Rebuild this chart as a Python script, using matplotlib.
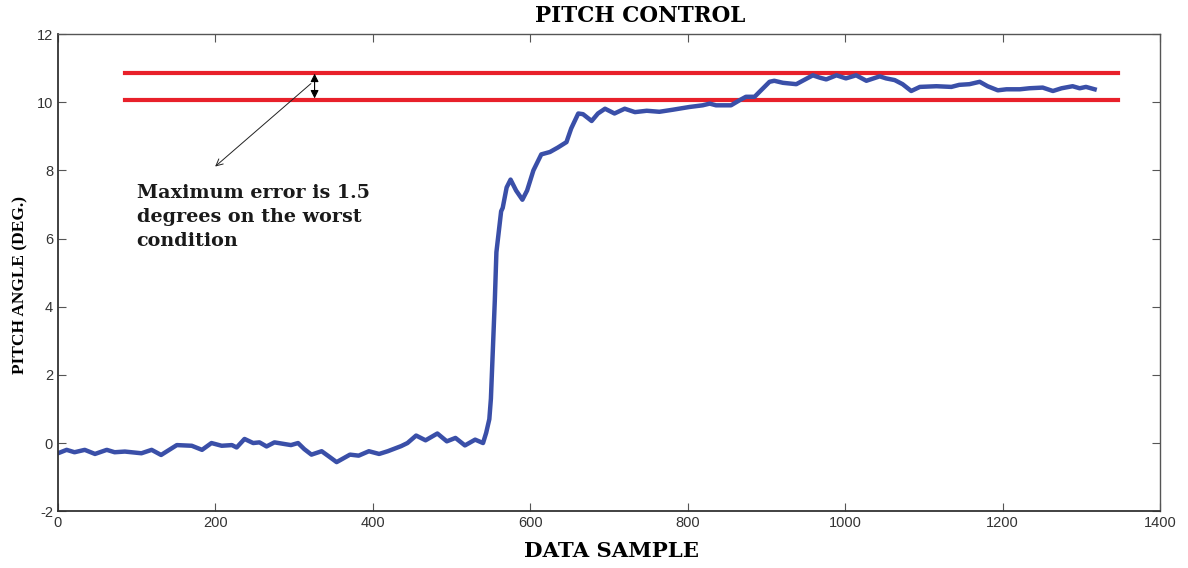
import numpy as np
import matplotlib.pyplot as plt

plt.rcParams['axes.unicode_minus'] = False

# pitch angle samples
sample = [0, 11, 21, 34, 47, 62, 72, 85, 106, 119, 131, 151, 170, 183, 195, 208,
          221, 227, 237, 248, 256, 265, 275, 288, 296, 305, 313, 322, 335, 344,
          354, 371, 382, 395, 408, 419, 436, 444, 455, 467, 482, 494, 505, 517,
          530, 540, 544, 548, 550, 555, 557, 563, 565, 570, 575, 582, 590, 596,
          604, 614, 625, 635, 646, 652, 661, 667, 678, 686, 695, 707, 720, 733,
          748, 764, 781, 802, 819, 828, 836, 855, 866, 874, 885, 891, 904, 910,
          921, 938, 946, 959, 968, 976, 989, 1001, 1014, 1027, 1044, 1052, 1063,
          1073, 1084, 1095, 1116, 1135, 1145, 1158, 1171, 1181, 1194, 1205, 1222,
          1234, 1251, 1264, 1275, 1289, 1298, 1306, 1317]
angle = [-0.3, -0.2, -0.27, -0.2, -0.32, -0.2, -0.27, -0.25, -0.3, -0.2, -0.35,
         -0.06, -0.08, -0.2, 0.0, -0.08, -0.06, -0.13, 0.12, 0.0, 0.02, -0.1, 0.02,
         -0.03, -0.06, 0.0, -0.18, -0.34, -0.24, -0.39, -0.56, -0.34, -0.37, -0.24,
         -0.32, -0.24, -0.09, 0.0, 0.22, 0.08, 0.28, 0.05, 0.15, -0.07, 0.1, 0.0,
         0.3, 0.7, 1.3, 4.2, 5.6, 6.8, 6.9, 7.5, 7.73, 7.41, 7.14, 7.41, 8.0, 8.47,
         8.54, 8.67, 8.83, 9.23, 9.67, 9.65, 9.45, 9.67, 9.81, 9.67, 9.81, 9.71,
         9.75, 9.72, 9.78, 9.86, 9.91, 9.96, 9.91, 9.91, 10.06, 10.16, 10.16, 10.3,
         10.6, 10.63, 10.57, 10.53, 10.63, 10.79, 10.72, 10.67, 10.79, 10.7, 10.79,
         10.63, 10.76, 10.7, 10.65, 10.53, 10.33, 10.45, 10.47, 10.45, 10.51, 10.53,
         10.6, 10.47, 10.35, 10.38, 10.38, 10.41, 10.43, 10.33, 10.41, 10.47, 10.41,
         10.45, 10.38]

# error band limits
band_lo = 10.08
band_hi = 10.87
band_x = [85, 1347]

xticks = [0, 200, 400, 600, 800, 1000, 1200, 1400]
yticks = [-2, 0, 2, 4, 6, 8, 10, 12]

serif = 'Liberation Serif'
wide_serif = 'DejaVu Serif'

fig = plt.figure(figsize=(11.88, 5.68), dpi=100)
ax = fig.add_axes([0.0488, 0.1, 0.9276, 0.84])

ax.plot(band_x, [band_hi, band_hi], color='#e8202a', lw=3)
ax.plot(band_x, [band_lo, band_lo], color='#e8202a', lw=3)
ax.plot(sample, angle, color='#3a4fa8', lw=3.2)

ax.annotate('', xy=(326, band_hi + 0.05), xytext=(326, band_lo - 0.05),
            arrowprops=dict(arrowstyle='<|-|>', color='black', lw=0.8, mutation_scale=12))
ax.annotate('', xy=(197, 8.06), xytext=(324, 10.6),
            arrowprops=dict(arrowstyle='->', color='#222222', lw=0.7, mutation_scale=12))

ax.text(100, 7.6, 'Maximum error is 1.5\ndegrees on the worst\ncondition',
        family=wide_serif, fontweight='bold', fontsize=13.8, va='top', ha='left',
        linespacing=1.42, color='#1a1a1a')

ax.set_xlim(0, 1400)
ax.set_ylim(-2, 12)
ax.set_xticks(xticks)
ax.set_yticks(yticks)
ax.tick_params(direction='in', length=6, top=True, right=True, labelsize=10.5,
               labelcolor='#333333', color='#555555')
for lab in ax.get_xticklabels() + ax.get_yticklabels():
    lab.set_family('Liberation Sans')

for side in ['left', 'bottom']:
    ax.spines[side].set_color('#333333')
    ax.spines[side].set_linewidth(1.3)
for side in ['top', 'right']:
    ax.spines[side].set_color('#555555')
    ax.spines[side].set_linewidth(1.0)

fig.text(0.539, 0.972, 'PITCH CONTROL', family=wide_serif, fontweight='bold',
         fontsize=15.5, ha='center', va='center')
fig.text(0.515, 0.03, 'DATA SAMPLE', family=wide_serif, fontweight='bold',
         fontsize=15.3, ha='center', va='center')
fig.text(0.017, 0.498, 'PITCH ANGLE (DEG.)', family=serif, fontweight='bold',
         fontsize=12.5, ha='center', va='center', rotation=90)

fig.savefig('out.png', dpi=100)
